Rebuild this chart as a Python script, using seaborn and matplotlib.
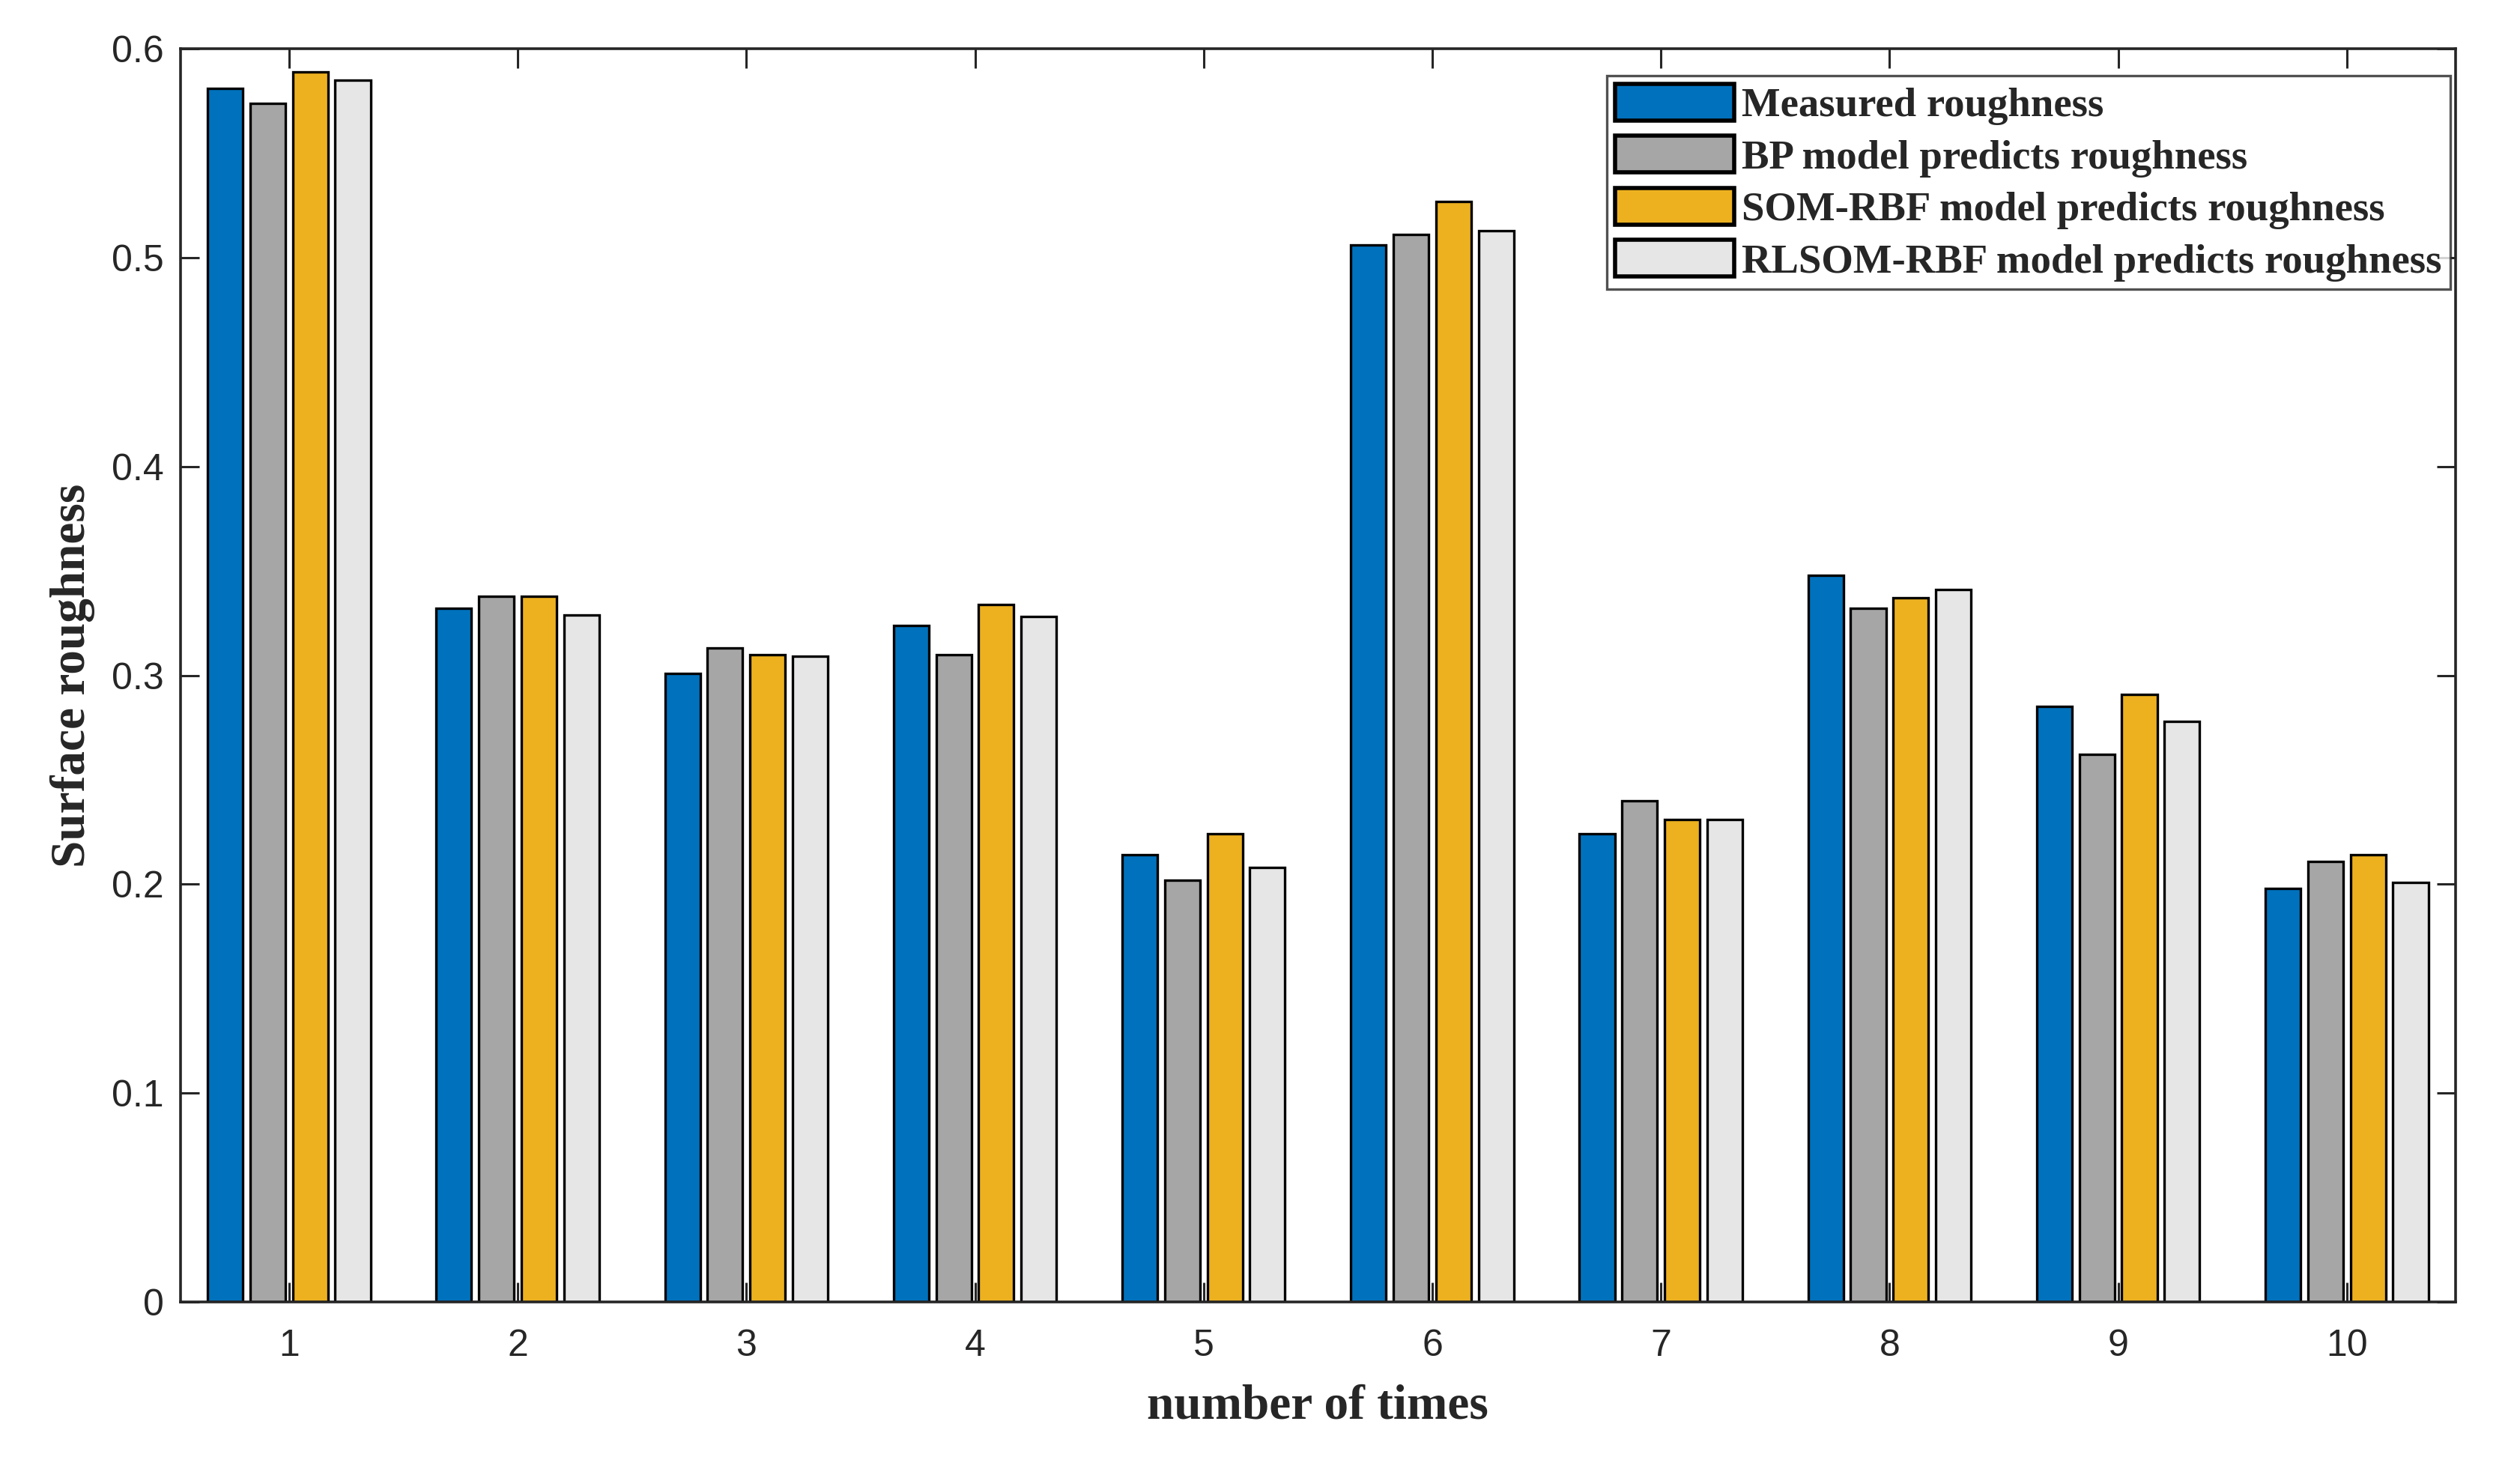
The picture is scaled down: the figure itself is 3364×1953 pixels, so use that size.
import numpy as np
import pandas as pd
import matplotlib
matplotlib.use("Agg")
import matplotlib.pyplot as plt
import seaborn as sns

# Chart data
times = ["1", "2", "3", "4", "5", "6", "7", "8", "9", "10"]
measured = [0.581, 0.332, 0.301, 0.324, 0.214, 0.506, 0.224, 0.348, 0.285, 0.198]
bp_pred = [0.574, 0.338, 0.313, 0.310, 0.202, 0.511, 0.240, 0.332, 0.262, 0.211]
som_rbf_pred = [0.589, 0.338, 0.310, 0.334, 0.224, 0.527, 0.231, 0.337, 0.291, 0.214]
rlsom_rbf_pred = [0.585, 0.329, 0.309, 0.328, 0.208, 0.513, 0.231, 0.341, 0.278, 0.201]
y_ticks = [0, 0.1, 0.2, 0.3, 0.4, 0.5, 0.6]
y_tick_labels = ["0", "0.1", "0.2", "0.3", "0.4", "0.5", "0.6"]

series_names = ["Measured roughness",
                "BP model predicts roughness",
                "SOM-RBF model predicts roughness",
                "RLSOM-RBF model predicts roughness"]
series_colors = ["#0072BD", "#A6A6A6", "#EDB120", "#E6E6E6"]

# long-form table for seaborn
rows = []
for name, vals in zip(series_names, [measured, bp_pred, som_rbf_pred, rlsom_rbf_pred]):
    for t, v in zip(times, vals):
        rows.append({"time": t, "model": name, "roughness": v})
df = pd.DataFrame(rows)

sns.set_style("ticks")
plt.rcParams["font.family"] = ["Liberation Sans", "DejaVu Sans"]
serif = ["Liberation Serif", "DejaVu Serif"]

fig = plt.figure(figsize=(16.82, 9.765), dpi=200)
ax = fig.add_axes([0.0716, 0.1101, 0.9028, 0.8566])

sns.barplot(data=df, x="time", y="roughness", hue="model", order=times,
            hue_order=series_names, palette=series_colors, width=0.744, gap=0.17,
            edgecolor="black", linewidth=1.2, saturation=1, errorbar=None, ax=ax)

ax.set_xlim(-0.475, 9.475)
ax.set_ylim(0, 0.6)
ax.set_yticks(y_ticks)
ax.set_yticklabels(y_tick_labels)

spine_col = "#262626"
for s in ax.spines.values():
    s.set_color(spine_col)
    s.set_linewidth(1.3)
    s.set_visible(True)

ax.tick_params(axis="x", direction="in", top=True, bottom=True, length=9.5,
               width=1.1, color=spine_col, labelsize=18, labelcolor="#262626", pad=13)
ax.tick_params(axis="y", direction="in", left=True, right=True, length=9,
               width=1.1, color=spine_col, labelsize=18, labelcolor="#262626", pad=8)

ax.set_xlabel("number of times", fontsize=23.5, fontweight="bold",
              family=serif, color="#262626", labelpad=10)
ax.set_ylabel("Surface roughness", fontsize=23.5, fontweight="bold",
              family=serif, color="#262626", labelpad=8)

leg = ax.legend(loc="upper right", bbox_to_anchor=(0.9977, 0.9785),
                prop={"family": serif, "weight": "bold", "size": 19.7},
                frameon=True, fancybox=False, edgecolor=spine_col,
                handlelength=2.9, handleheight=1.0, labelspacing=0.26,
                handletextpad=0.2, borderpad=0.2, borderaxespad=0)
leg.get_frame().set_linewidth(1.2)
for h in leg.get_patches():
    h.set_edgecolor("black")
    h.set_linewidth(2.0)

fig.savefig("out.png", dpi=200)
